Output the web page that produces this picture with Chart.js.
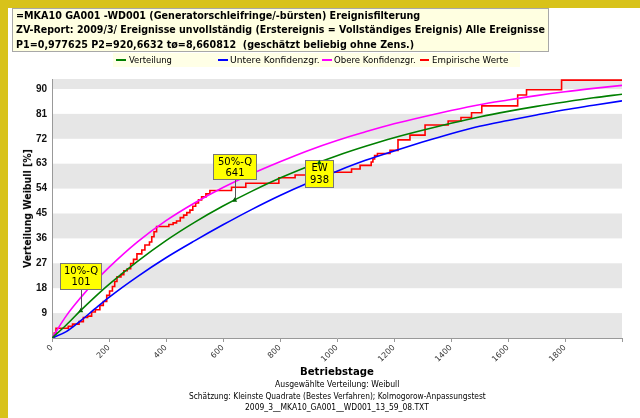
<!DOCTYPE html>
<html><head><meta charset="utf-8">
<script src="https://cdn.jsdelivr.net/npm/chart.js@4.4.0/dist/chart.umd.min.js"></script>
<style>
html,body{margin:0;padding:0;background:#fff;width:640px;height:418px;overflow:hidden;}
#wrap{position:relative;width:640px;height:418px;}
canvas{position:absolute;left:0;top:0;}
.t{position:absolute;white-space:pre;line-height:1;font-family:"DejaVu Sans",sans-serif;color:#000;transform-origin:0 50%;}
.ln{position:absolute;height:2px;}
</style></head><body>
<div id="wrap">
<div style="position:absolute;left:0;top:0;width:640px;height:8px;background:#D8C21A"></div>
<div style="position:absolute;left:0;top:0;width:8px;height:418px;background:#D8C21A"></div>
<div style="position:absolute;left:12px;top:8px;width:537px;height:44px;background:#FFFFE1;border:1px solid #A8A8A8;box-sizing:border-box"></div>
<div style="position:absolute;left:113px;top:53px;width:407px;height:14px;background:#FFFFE6"></div>
<canvas id="c" width="640" height="418"></canvas>
<div id="texts"></div>
</div>
<script>
// ---- data ----
const curveDays   = [0,50,100,150,200,300,400,500,600,700,800,900,1000,1100,1200,1300,1400,1500,1600,1700,1800,1900,2000];
const verteilung  = [0,4.7,9.9,14.8,19.4,27.7,35.2,41.8,47.7,53.0,57.8,62.1,65.9,69.3,72.4,75.1,77.6,79.9,81.9,83.7,85.3,86.8,88.1];
const untereKonf  = [0,2.3,6.2,10.5,14.7,22.2,29.0,35.1,40.9,46.4,51.5,56.1,60.3,64.2,67.6,70.8,73.8,76.5,78.6,80.6,82.5,84.1,85.7];
const obereKonf   = [0,8.0,14.5,20.3,25.5,34.7,42.4,48.8,54.4,59.3,63.7,67.8,71.4,74.5,77.4,79.9,82.2,84.3,86.0,87.6,89.0,90.2,91.3];
const empDays  = [0,8,14,57,72,95,110,125,139,152,168,180,192,202,212,220,228,242,252,264,276,286,298,315,326,342,350,358,367,410,425,437,450,462,473,484,494,504,514,525,540,554,630,680,796,853,905,1051,1081,1120,1126,1132,1142,1186,1214,1256,1309,1390,1435,1472,1508,1634,1665,1788,2000];
const empWerte = [0,1.8,3.5,4.2,5.0,5.9,7.4,7.9,9.4,10.2,11.8,13.2,15.4,17.0,18.6,20.4,22.1,22.9,24.3,25.0,26.9,28.4,30.4,31.8,33.6,34.7,36.6,38.4,40.3,41.0,41.6,42.3,43.5,44.4,45.3,46.2,47.6,48.8,49.9,51.0,52.1,53.3,54.5,55.9,57.9,58.9,59.9,61.1,62.4,63.6,64.7,65.9,66.7,67.8,71.6,73.3,77.0,78.4,79.7,81.4,83.9,87.8,89.7,93.2,93.2];
const annotLabels = [["10%-Q","101"],["50%-Q","641"],["EW","938"]];
const annotDays   = [101,641,938];
const annotLevels = [10,50,63.5];
const yTickStep = 9, xTickStep = 200;

// ---- text (layout only) ----
const texts = [
 {s:"=MKA10 GA001 -WD001 (Generatorschleifringe/-bürsten) Ereignisfilterung", x:16, y:15, w:404, f:"bold 11px 'DejaVu Sans'"},
 {s:"ZV-Report: 2009/3/ Ereignisse unvollständig (Erstereignis = Vollständiges Ereignis) Alle Ereignisse", x:16, y:29.5, w:529, f:"bold 11px 'DejaVu Sans'"},
 {s:"P1=0,977625 P2=920,6632 tø=8,660812  (geschätzt beliebig ohne Zens.)", x:16, y:44, w:398, f:"bold 11px 'DejaVu Sans'"},
 {s:"Verteilung", x:129, y:60, w:43, f:"9px 'DejaVu Sans'"},
 {s:"Untere Konfidenzgr.", x:230, y:60, w:90, f:"9px 'DejaVu Sans'"},
 {s:"Obere Konfidenzgr.", x:334, y:60, w:82, f:"9px 'DejaVu Sans'"},
 {s:"Empirische Werte", x:432, y:60, w:76, f:"9px 'DejaVu Sans'"},
 {s:"Betriebstage", cx:337, y:371, w:74, f:"bold 10px 'DejaVu Sans'"},
 {s:"Ausgewählte Verteilung: Weibull", cx:337, y:384, w:124, f:"9px 'DejaVu Sans'"},
 {s:"Schätzung: Kleinste Quadrate (Bestes Verfahren); Kolmogorow-Anpassungstest", cx:337, y:396, w:297, f:"9px 'DejaVu Sans'"},
 {s:"2009_3__MKA10_GA001__WD001_13_59_08.TXT", cx:337, y:407, w:184, f:"9px 'DejaVu Sans'"},
];
const legendLines = [{x:116,w:10,c:'#008000'},{x:218,w:10,c:'#0000FF'},{x:322,w:10,c:'#FF00FF'},{x:420,w:9,c:'#FF0000'}];
const host = document.getElementById('texts');
legendLines.forEach(l=>{const d=document.createElement('div');d.className='ln';d.style.cssText=`left:${l.x}px;top:59px;width:${l.w}px;background:${l.c}`;host.appendChild(d);});
function addText(o, rot){
  const d=document.createElement('div'); d.className='t'; d.textContent=o.s; d.style.font=o.f;
  host.appendChild(d);
  const h=d.offsetHeight, w0=d.offsetWidth, k=o.w/w0;
  if(rot){
    d.style.transformOrigin='50% 50%';
    d.style.left=(o.cx-w0/2)+'px'; d.style.top=(o.cy-h/2)+'px';
    d.style.transform=`rotate(-90deg) scaleX(${k})`;
  } else {
    const left = (o.cx!==undefined)? o.cx-o.w/2 : o.x;
    d.style.left=left+'px'; d.style.top=(o.y-h/2)+'px';
    d.style.transform=`scaleX(${k})`;
  }
}
texts.forEach(o=>addText(o,false));
addText({s:"Verteilung Weibull [%]", cx:27, cy:208, w:119, f:"bold 10px 'DejaVu Sans'"}, true);

// ---- plugins ----
const bandsPlugin = {id:'bands', beforeDraw(chart){
  const {ctx, chartArea:a, scales:{y}} = chart;
  ctx.save(); ctx.fillStyle='#E6E6E6';
  const tv = y.ticks.map(t=>t.value);
  for(let i=0;i<tv.length;i+=2){
    const lo=tv[i], hi = (i+1<tv.length)? tv[i+1] : y.max;
    const top=y.getPixelForValue(hi), bot=y.getPixelForValue(lo);
    ctx.fillRect(a.left, top, a.right-a.left, bot-top);
  }
  ctx.restore();
}};
const boxSize = [[41,26],[43,25],[28,27]];
const boxPlace = ['above','above','below'];
const annotPlugin = {id:'annot', afterDatasetsDraw(chart){
  const {ctx, scales:{x,y}} = chart;
  ctx.save();
  annotDays.forEach((d,i)=>{
    const px=x.getPixelForValue(d), py=y.getPixelForValue(annotLevels[i]);
    const [w,h]=boxSize[i];
    let bx=Math.round(px-w/2)+0.5, by;
    if(boxPlace[i]==='above'){ by=Math.round(py-21-h)+0.5;
      ctx.strokeStyle='#555'; ctx.lineWidth=1; ctx.beginPath(); ctx.moveTo(Math.round(px)+0.5,by+h); ctx.lineTo(Math.round(px)+0.5,py); ctx.stroke();
    } else { by=Math.round(py-2)+0.5; }
    ctx.fillStyle='#FFFF00'; ctx.fillRect(bx,by,w,h);
    ctx.strokeStyle='#777'; ctx.lineWidth=1; ctx.strokeRect(bx,by,w,h);
    ctx.fillStyle='#000'; ctx.font="10px 'DejaVu Sans'"; ctx.textAlign='center'; ctx.textBaseline='middle';
    ctx.fillText(annotLabels[i][0], bx+w/2, by+h*0.3);
    ctx.fillText(annotLabels[i][1], bx+w/2, by+h*0.74);
    ctx.fillStyle='#006400'; ctx.beginPath(); ctx.moveTo(px,py-2.5); ctx.lineTo(px+2.5,py+2); ctx.lineTo(px-2.5,py+2); ctx.closePath(); ctx.fill();
  });
  ctx.restore();
}};

const pts = (xs,ys)=>xs.map((v,i)=>({x:v,y:ys[i]}));
new Chart(document.getElementById('c'), {
  type:'line',
  data:{datasets:[
    {label:'Verteilung', data:pts(curveDays,verteilung), borderColor:'#008000', borderWidth:1.6, pointRadius:0, cubicInterpolationMode:'monotone'},
    {label:'Untere Konfidenzgr.', data:pts(curveDays,untereKonf), borderColor:'#0000FF', borderWidth:1.6, pointRadius:0, cubicInterpolationMode:'monotone'},
    {label:'Obere Konfidenzgr.', data:pts(curveDays,obereKonf), borderColor:'#FF00FF', borderWidth:1.6, pointRadius:0, cubicInterpolationMode:'monotone'},
    {label:'Empirische Werte', data:pts(empDays,empWerte), borderColor:'#FF0000', borderWidth:1.6, pointRadius:0, stepped:true}
  ]},
  options:{
    responsive:false, animation:false, devicePixelRatio:1,
    layout:{padding:{left:0,right:18,top:79,bottom:0}},
    plugins:{legend:{display:false}, tooltip:{enabled:false}},
    scales:{
      x:{type:'linear', min:0, max:2000,
         ticks:{stepSize:xTickStep, includeBounds:false, minRotation:45, maxRotation:45, autoSkip:false,
                font:{family:'DejaVu Sans', size:8}, color:'#333', padding:1,
                callback:v=> v===2000 ? '' : String(v)},
         grid:{drawOnChartArea:false, drawTicks:true, tickLength:4, color:'#999'},
         border:{color:'#999'},
         afterFit(s){ s.height=80; }},
      y:{min:0, max:93.6,
         ticks:{stepSize:yTickStep, includeBounds:false, font:{family:'Liberation Sans', size:10, weight:'bold'}, color:'#111', padding:5,
                callback:v=> v===0 ? '' : String(v)},
         grid:{drawOnChartArea:false, drawTicks:false},
         border:{color:'#999'},
         afterFit(s){ s.width=52; }}
    }
  },
  plugins:[bandsPlugin, annotPlugin]
});
</script>
</body></html>
